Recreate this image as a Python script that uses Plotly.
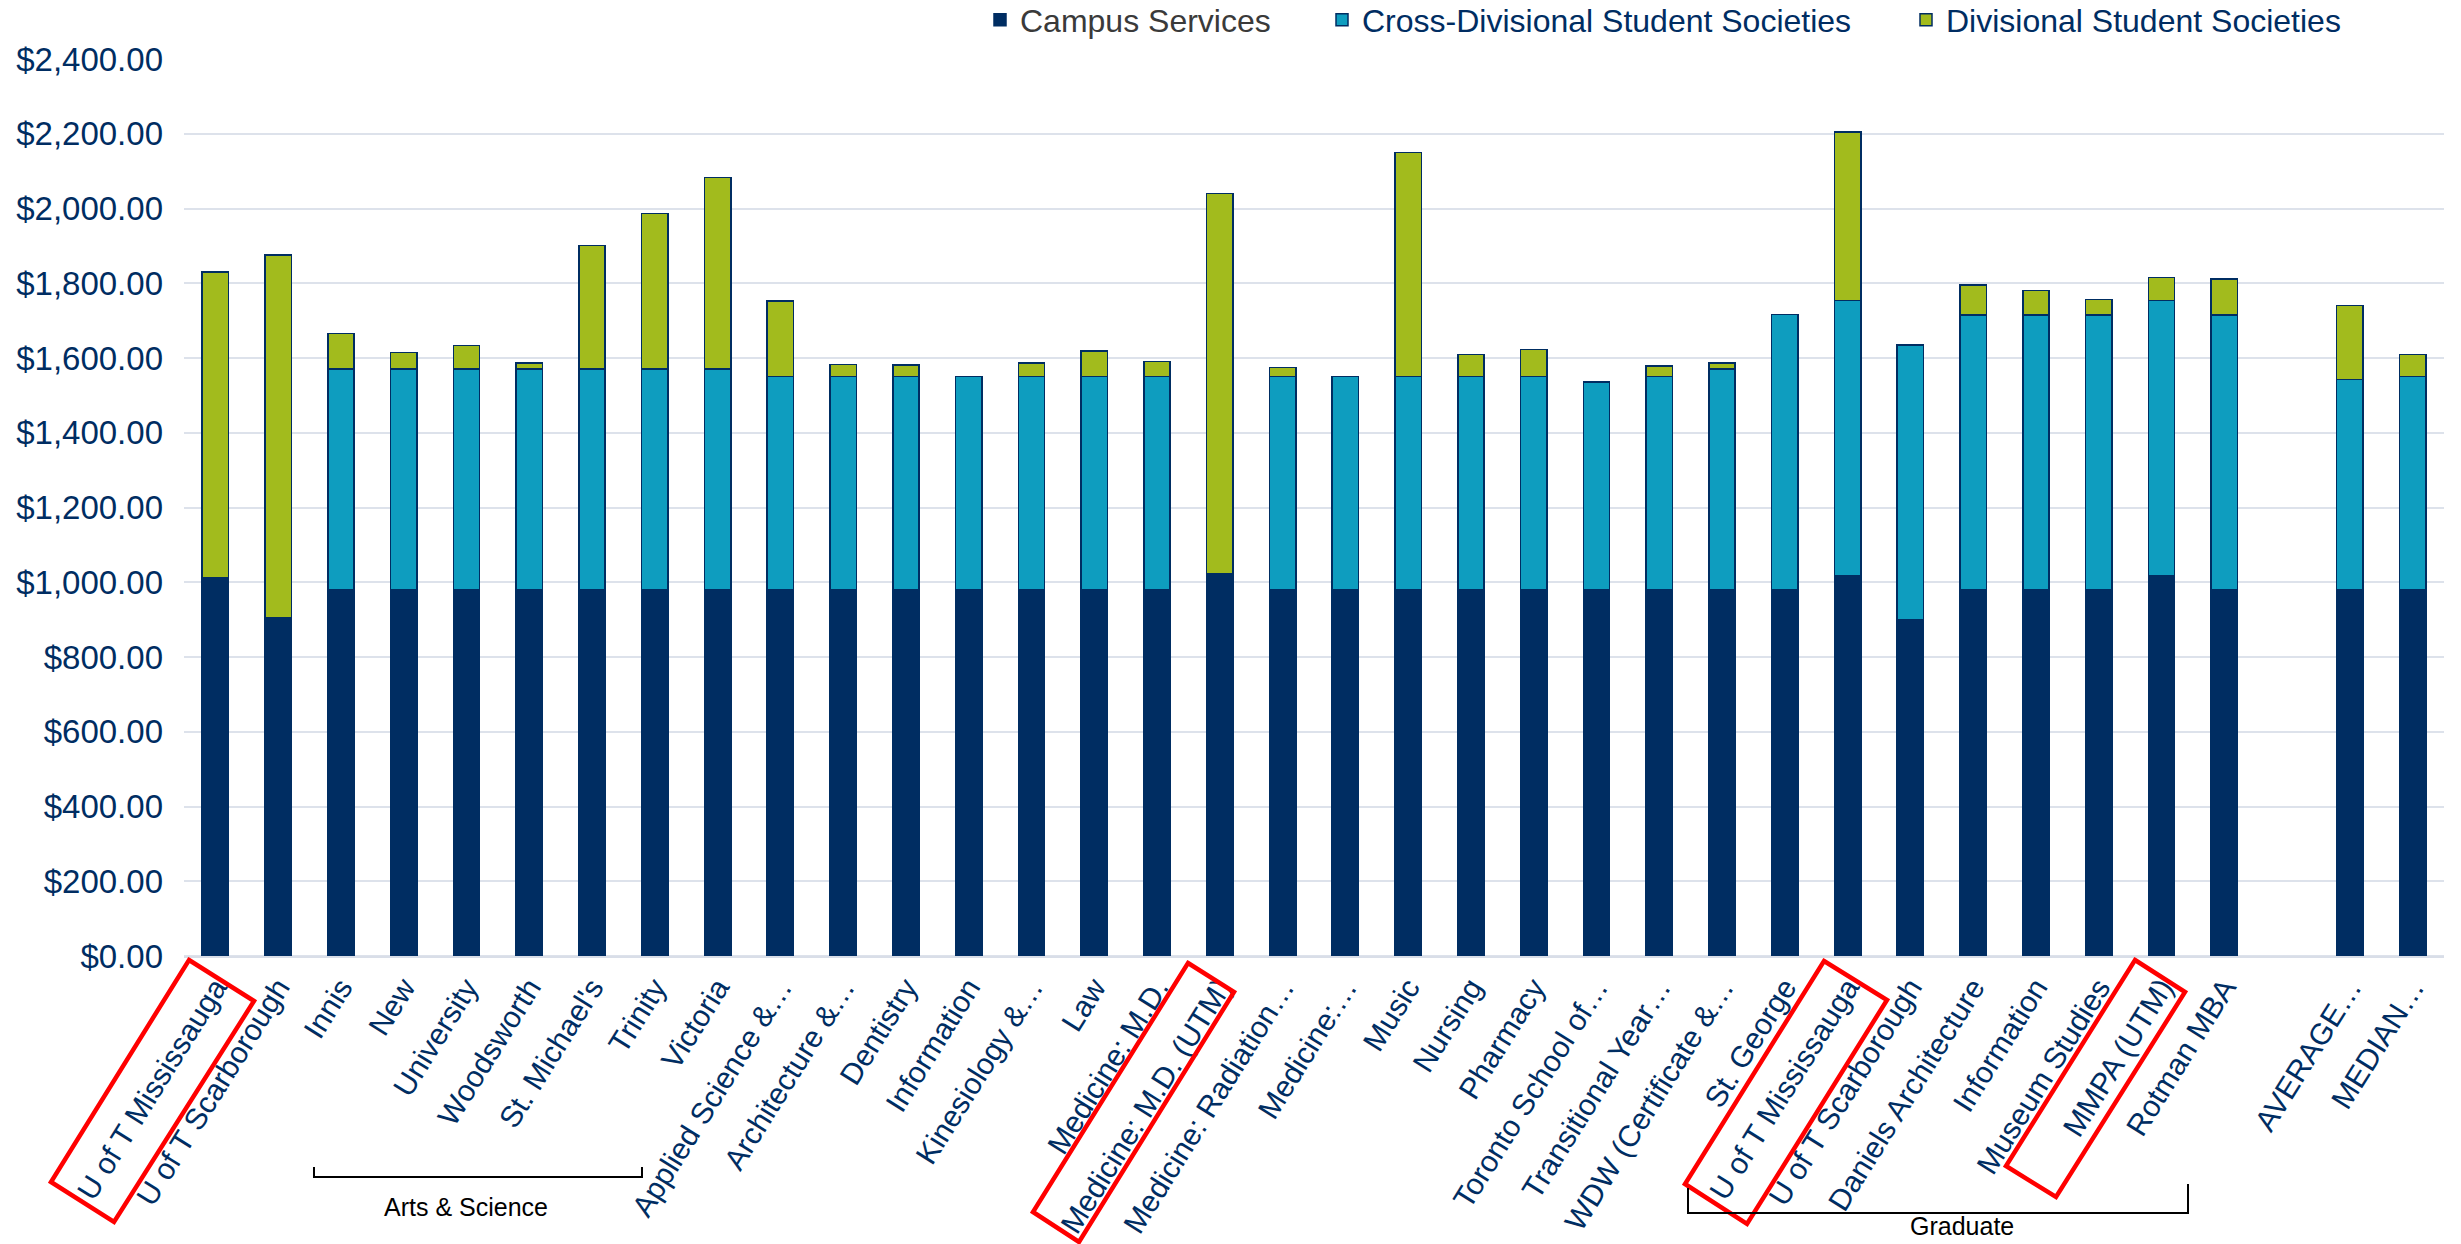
import plotly.graph_objects as go

categories = [
    "U of T Mississauga", "U of T Scarborough", "Innis", "New", "University",
    "Woodsworth", "St. Michael's", "Trinity", "Victoria", "Applied Science &…",
    "Architecture &…", "Dentistry", "Information", "Kinesiology &…", "Law",
    "Medicine: M.D.", "Medicine: M.D. (UTM)", "Medicine: Radiation…", "Medicine:…",
    "Music", "Nursing", "Pharmacy", "Toronto School of…", "Transitional Year…",
    "WDW (Certificate &…", "St. George", "U of T Mississauga", "U of T Scarborough",
    "Daniels Architecture", "Information", "Museum Studies", "MMPA (UTM)",
    "Rotman MBA", "", "AVERAGE…", "MEDIAN…",
]

campus_services = [
    1012, 905, 980, 980, 980, 980, 980, 980, 980, 980,
    980, 980, 980, 980, 980, 980, 1023, 980, 980, 980,
    980, 980, 980, 980, 980, 980, 1018, 900, 980, 980,
    980, 1018, 980, None, 980, 980,
]
cross_divisional = [
    0, 0, 591, 591, 591, 591, 591, 591, 591, 570,
    570, 570, 570, 570, 570, 570, 0, 570, 570, 570,
    570, 570, 556, 570, 591, 737, 736, 735, 735, 735,
    735, 736, 735, None, 563, 570,
]
divisional = [
    818, 970, 94, 44, 62, 15, 330, 416, 512, 203,
    32, 31, 0, 36, 69, 41, 1017, 24, 0, 600,
    60, 73, 0, 29, 16, 0, 451, 0, 81, 65,
    41, 61, 96, None, 197, 60,
]

NAVY = "#002D62"
TEAL = "#0E9DBF"
GREEN = "#A2BB1D"
FONT = "Liberation Sans, Arial, sans-serif"

x_idx = list(range(len(categories)))

# layout geometry (pixels)
W, H = 2461, 1244
L, R, T, B = 184, 17, 59, 288
pw, ph = W - L - R, H - T - B


def px(x):
    return (x - L) / pw


def py(y):
    return (H - B - y) / ph


def path(points):
    return "M " + " L ".join(f"{px(a):.5f},{py(b):.5f}" for a, b in points)


fig = go.Figure()
series = [
    ("<span style='color:#3a3a3a'>Campus Services</span>", campus_services, NAVY, "legend", 1022),
    ("Cross-Divisional Student Societies", cross_divisional, TEAL, "legend2", 1364),
    ("Divisional Student Societies", divisional, GREEN, "legend3", 1948),
]
legends = {}
for name, vals, col, lg, text_x in series:
    fig.add_trace(go.Bar(
        x=x_idx, y=vals, name=name, legend=lg,
        marker=dict(color=col, line=dict(color=NAVY, width=1.5)),
    ))
    legends[lg] = dict(orientation="h", x=px(text_x - 42), xanchor="left",
                       y=py(20), yanchor="middle",
                       font=dict(family=FONT, size=32, color=NAVY),
                       bgcolor="rgba(0,0,0,0)")

shapes = []
red_boxes = [
    [(189, 960), (254, 1001), (114, 1222), (51, 1182)],
    [(1188, 963), (1234, 992), (1079, 1242), (1033, 1212)],
    [(1824, 961), (1887, 1000), (1747, 1224), (1685, 1184)],
    [(2135, 960), (2185, 992), (2056, 1197), (2006, 1166)],
]
for pts in red_boxes:
    shapes.append(dict(type="path", xref="paper", yref="paper",
                       path=path(pts) + " Z",
                       line=dict(color="#FF0000", width=4.5)))
shapes.append(dict(type="path", xref="paper", yref="paper",
                   path=path([(314, 1167), (314, 1177), (642, 1177), (642, 1167)]),
                   line=dict(color="black", width=2)))
shapes.append(dict(type="path", xref="paper", yref="paper",
                   path=path([(1688, 1188), (1688, 1213), (2188, 1213), (2188, 1184)]),
                   line=dict(color="black", width=2)))

annotations = [
    dict(text="Arts & Science", xref="paper", yref="paper", x=px(466), y=py(1207),
         showarrow=False, font=dict(family=FONT, size=25, color="black"),
         xanchor="center", yanchor="middle"),
    dict(text="Graduate", xref="paper", yref="paper", x=px(1962), y=py(1226),
         showarrow=False, font=dict(family=FONT, size=25, color="black"),
         xanchor="center", yanchor="middle"),
]

fig.update_layout(
    width=W, height=H,
    margin=dict(l=L, r=R, t=T, b=B, pad=0, autoexpand=False),
    barmode="stack",
    bargap=0.58,
    plot_bgcolor="white", paper_bgcolor="white",
    font=dict(family=FONT, size=30, color=NAVY),
    shapes=shapes,
    annotations=annotations,
    showlegend=True,
    **legends,
)
fig.update_xaxes(
    automargin=False,
    tickmode="array", tickvals=x_idx, ticktext=categories,
    tickangle=-58, range=[-0.5, len(categories) - 0.5],
    showgrid=False, showline=True, linecolor="#D9DEE8", linewidth=2,
    ticks="", ticklabelstandoff=0, ticklabelshift=0,
    tickfont=dict(family=FONT, size=30, color=NAVY),
)
fig.update_yaxes(
    automargin=False,
    range=[0, 2400], dtick=200, tickprefix="$", tickformat=",.2f",
    showgrid=True, gridcolor="#DDE2EB", gridwidth=2,
    zeroline=True, zerolinecolor="#DDE2EB", zerolinewidth=2,
    ticks="", ticklabelstandoff=20,
    tickfont=dict(family=FONT, size=33, color=NAVY),
)

fig.write_html(
    "out.html",
    config={"displayModeBar": False},
    post_script="document.body.style.margin='0';document.body.style.overflow='hidden';",
)
